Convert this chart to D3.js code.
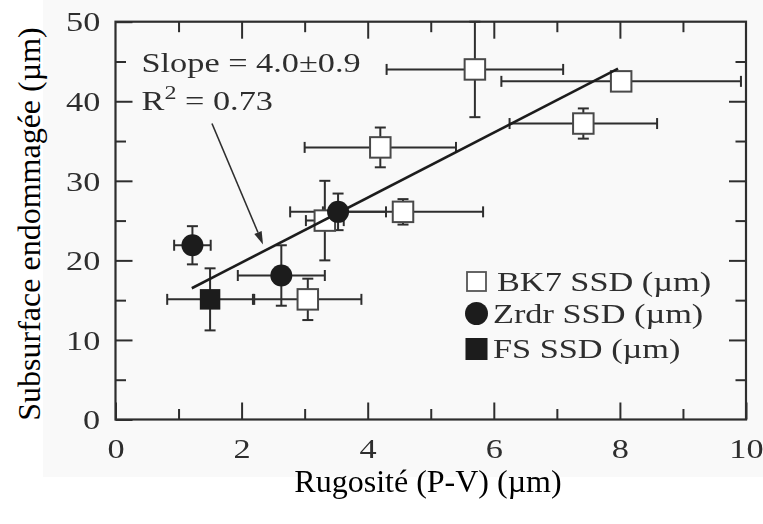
<!DOCTYPE html>
<html>
<head>
<meta charset="utf-8">
<script src="https://cdn.jsdelivr.net/npm/d3@7"></script>
<style>
  html, body { margin: 0; padding: 0; background: #ffffff; }
  svg { display: block; }
</style>
</head>
<body>
<svg id="chart" width="763" height="524"></svg>
<script>
// BK7 glass: roughness (P-V) vs subsurface damage depth, with error bars
const bk7X    = [3.05, 3.32, 4.20, 4.56, 5.70, 7.42, 8.02];
const bk7Y    = [15.1, 25.0, 34.2, 26.1, 44.0, 37.2, 42.5];
const bk7XErr = [0.85, 0.30, 1.20, 1.27, 1.40, 1.17, 1.90];
const bk7YErr = [2.6, 5.0, 2.5, 1.6, 6.0, 1.9, 0];

// Zerodur
const zrX    = [1.22, 2.63, 3.53];
const zrY    = [21.9, 18.1, 26.1];
const zrXErr = [0.29, 0.69, 0.76];
const zrYErr = [2.4, 3.8, 2.3];

// Fused silica
const fsX    = [1.50];
const fsY    = [15.1];
const fsXErr = [0.68];
const fsYErr = [3.9];

// Linear fit endpoints and its annotation
const fitX = [1.21, 7.97];
const fitY = [16.5, 44.1];
const slopeLabel = "Slope = 4.0±0.9";
const r2Value = "0.73";
const arrowFrom = [1.53, 37.2];
const arrowTo = [2.34, 22.0];

const xMajor = [0, 2, 4, 6, 8, 10];
const xMinor = [1, 3, 5, 7, 9];
const yMajor = [0, 10, 20, 30, 40, 50];
const yMinor = [5, 15, 25, 35, 45];

const legendItems = ["BK7 SSD (µm)", "Zrdr SSD (µm)", "FS SSD (µm)"];
const xTitle = "Rugosité (P-V) (µm)";
const yTitle = "Subsurface endommagée (µm)";

const svg = d3.select("#chart");
const L = 115.5, R = 746, T = 21.7, B = 419.5;
const x = d3.scaleLinear().domain([0, 10]).range([L, R]);
const y = d3.scaleLinear().domain([0, 50]).range([B, T]);

const ink = "#2e2e2e";
const serif = "'Liberation Serif', 'Times New Roman', serif";
const sx = 1.27;      // chart lettering is set wide
const fs = 27;

// faint backdrop of the plotted figure
svg.append("rect").attr("x", 43).attr("y", 0).attr("width", 720).attr("height", 477)
  .attr("fill", "#f9f9f9");

const defs = svg.append("defs");
defs.append("filter").attr("id", "soft")
  .attr("x", "-5%").attr("y", "-5%").attr("width", "110%").attr("height", "110%")
  .append("feGaussianBlur").attr("stdDeviation", 0.55);

const g = svg.append("g").attr("filter", "url(#soft)");

// ---- axes with inward ticks on all four sides ----
function styleAxis(sel) {
  sel.select(".domain").remove();
  sel.selectAll(".tick line").attr("stroke", ink).attr("stroke-width", 2);
  sel.selectAll(".tick text").attr("fill", ink).attr("font-family", serif)
     .attr("font-size", fs);
}
const major = 17, minor = 10.5;

g.append("g").attr("transform", `translate(0,${B})`)
  .call(d3.axisBottom(x).tickValues(xMajor).tickSize(-major).tickPadding(19).tickFormat(d3.format("d")))
  .call(styleAxis)
  .call(s => s.selectAll(".tick text").attr("transform", `scale(${sx},1)`));
g.append("g").attr("transform", `translate(0,${B})`)
  .call(d3.axisBottom(x).tickValues(xMinor).tickSize(-minor).tickFormat(""))
  .call(styleAxis);
g.append("g").attr("transform", `translate(0,${T})`)
  .call(d3.axisTop(x).tickValues(xMajor.slice(1, -1)).tickSize(-major).tickFormat(""))
  .call(styleAxis);
g.append("g").attr("transform", `translate(0,${T})`)
  .call(d3.axisTop(x).tickValues(xMinor).tickSize(-minor).tickFormat(""))
  .call(styleAxis);

g.append("g").attr("transform", `translate(${L},0)`)
  .call(d3.axisLeft(y).tickValues(yMajor).tickSize(-major).tickPadding(12).tickFormat(d3.format("d")))
  .call(styleAxis)
  .call(s => s.selectAll(".tick text").attr("transform", `scale(${sx},1)`).attr("dy", "0.34em"));
g.append("g").attr("transform", `translate(${L},0)`)
  .call(d3.axisLeft(y).tickValues(yMinor).tickSize(-minor).tickFormat(""))
  .call(styleAxis);
g.append("g").attr("transform", `translate(${R},0)`)
  .call(d3.axisRight(y).tickValues(yMajor.slice(1, -1)).tickSize(-major).tickFormat(""))
  .call(styleAxis);
g.append("g").attr("transform", `translate(${R},0)`)
  .call(d3.axisRight(y).tickValues(yMinor).tickSize(-minor).tickFormat(""))
  .call(styleAxis);

g.append("rect").attr("x", L).attr("y", T).attr("width", R - L).attr("height", B - T)
  .attr("fill", "none").attr("stroke", ink).attr("stroke-width", 2.2);

// ---- error bars ----
function series(xs, ys, xe, ye) {
  return xs.map((v, i) => ({ x: v, y: ys[i], xe: xe[i], ye: ye[i] }));
}
const bk7 = series(bk7X, bk7Y, bk7XErr, bk7YErr);
const zr = series(zrX, zrY, zrXErr, zrYErr);
const fsd = series(fsX, fsY, fsXErr, fsYErr);
const all = bk7.concat(zr, fsd);

const cap = 5.5;
const eb = g.append("g").attr("stroke", ink).attr("stroke-width", 2).attr("fill", "none");
all.forEach(d => {
  if (d.xe > 0) {
    const x0 = x(d.x - d.xe), x1 = x(d.x + d.xe), yy = y(d.y);
    eb.append("line").attr("x1", x0).attr("x2", x1).attr("y1", yy).attr("y2", yy);
    eb.append("line").attr("x1", x0).attr("x2", x0).attr("y1", yy - cap).attr("y2", yy + cap);
    eb.append("line").attr("x1", x1).attr("x2", x1).attr("y1", yy - cap).attr("y2", yy + cap);
  }
  if (d.ye > 0) {
    const y0 = y(d.y - d.ye), y1 = y(d.y + d.ye), xx = x(d.x);
    eb.append("line").attr("x1", xx).attr("x2", xx).attr("y1", y0).attr("y2", y1);
    eb.append("line").attr("x1", xx - cap).attr("x2", xx + cap).attr("y1", y0).attr("y2", y0);
    eb.append("line").attr("x1", xx - cap).attr("x2", xx + cap).attr("y1", y1).attr("y2", y1);
  }
});

// ---- markers ----
const sq = 20.5, rad = 11;
g.append("g").selectAll("rect").data(bk7).join("rect")
  .attr("x", d => x(d.x) - sq / 2).attr("y", d => y(d.y) - sq / 2)
  .attr("width", sq).attr("height", sq)
  .attr("fill", "#ffffff").attr("stroke", "#4a4a4a").attr("stroke-width", 2);

// fitted line
g.append("line")
  .attr("x1", x(fitX[0])).attr("y1", y(fitY[0]))
  .attr("x2", x(fitX[1])).attr("y2", y(fitY[1]))
  .attr("stroke", "#1e1e1e").attr("stroke-width", 2.6);

g.append("g").selectAll("circle").data(zr).join("circle")
  .attr("cx", d => x(d.x)).attr("cy", d => y(d.y)).attr("r", rad)
  .attr("fill", "#1c1c1c");

g.append("g").selectAll("rect").data(fsd).join("rect")
  .attr("x", d => x(d.x) - sq / 2).attr("y", d => y(d.y) - sq / 2)
  .attr("width", sq).attr("height", sq)
  .attr("fill", "#1c1c1c");

// ---- annotation ----
const ax0 = x(arrowFrom[0]), ay0 = y(arrowFrom[1]);
const ax1 = x(arrowTo[0]), ay1 = y(arrowTo[1]);
const ang = Math.atan2(ay1 - ay0, ax1 - ax0);
const headL = 13, headW = 4;
const bx = ax1 - headL * Math.cos(ang), by = ay1 - headL * Math.sin(ang);
g.append("line").attr("x1", ax0).attr("y1", ay0).attr("x2", bx).attr("y2", by)
  .attr("stroke", ink).attr("stroke-width", 1.6);
g.append("path")
  .attr("d", `M${ax1},${ay1}L${bx + headW * Math.sin(ang)},${by - headW * Math.cos(ang)}` +
             `L${bx - headW * Math.sin(ang)},${by + headW * Math.cos(ang)}Z`)
  .attr("fill", ink);

const ann = g.append("g").attr("fill", ink).attr("font-family", serif).attr("font-size", fs);
ann.append("text").attr("transform", `translate(141.5,71.5) scale(${sx},1)`).text(slopeLabel);
const r2 = ann.append("text").attr("transform", `translate(141.5,110) scale(${sx},1)`);
r2.append("tspan").text("R");
r2.append("tspan").attr("font-size", 19).attr("dy", -11).text("2");
r2.append("tspan").attr("dy", 11).text(" = " + r2Value);

// ---- legend ----
const legRows = [281.5, 313.5, 349];
const lg = g.append("g");
const lx = 476.5;
lg.append("rect").attr("x", lx - 9.5).attr("y", legRows[0] - 9.5).attr("width", 19).attr("height", 19)
  .attr("fill", "#fff").attr("stroke", "#555").attr("stroke-width", 1.8);
lg.append("circle").attr("cx", lx).attr("cy", legRows[1]).attr("r", 11.5).attr("fill", "#1c1c1c");
lg.append("rect").attr("x", lx - 11).attr("y", legRows[2] - 11).attr("width", 22).attr("height", 22)
  .attr("fill", "#1c1c1c");
lg.selectAll("text").data(legendItems).join("text")
  .attr("transform", (d, i) => `translate(${i === 0 ? 497 : 493},${legRows[i] + 9}) scale(${sx},1)`)
  .attr("fill", ink).attr("font-family", serif).attr("font-size", fs)
  .text(d => d);

// ---- axis titles ----
svg.append("text").attr("x", 428).attr("y", 492).attr("text-anchor", "middle")
  .attr("font-family", serif).attr("font-size", 32).attr("fill", "#000").text(xTitle);
svg.append("text").attr("transform", "translate(40,224) rotate(-90)").attr("text-anchor", "middle")
  .attr("font-family", serif).attr("font-size", 32).attr("fill", "#000").text(yTitle);
</script>
</body>
</html>
